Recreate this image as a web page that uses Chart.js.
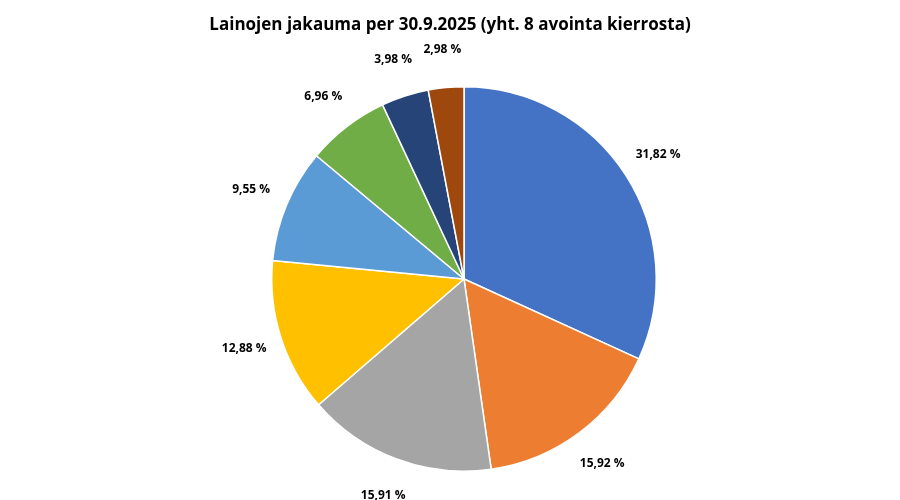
<!DOCTYPE html>
<html>
<head>
<meta charset="utf-8">
<script src="https://cdn.jsdelivr.net/npm/chart.js@4/dist/chart.umd.min.js"></script>
<style>
  body { margin: 0; background: #fff; }
  #wrap { width: 900px; height: 500px; }
</style>
</head>
<body>
<div id="wrap"><canvas id="c" width="900" height="500"></canvas></div>
<script>
// Loan distribution data
const categories = ["1", "2", "3", "4", "5", "6", "7", "8"];
const shares = [31.82, 15.92, 15.91, 12.88, 9.55, 6.96, 3.98, 2.98];
const colors = ["#4472C4", "#ED7D31", "#A5A5A5", "#FFC000", "#5B9BD5", "#70AD47", "#264478", "#9E480E"];
const titleText = "Lainojen jakauma per 30.9.2025 (yht. 8 avointa kierrosta)";

// draws title and outside percentage labels
const labelPlugin = {
  id: "outLabels",
  afterDraw(chart) {
    const ctx = chart.ctx;
    ctx.save();
    ctx.fillStyle = "#000";
    ctx.textAlign = "center";
    ctx.textBaseline = "middle";
    ctx.font = "bold 17px 'Open Sans'";
    ctx.fillText(titleText, 450, 25);
    ctx.font = "bold 12px 'Open Sans'";
    chart.getDatasetMeta(0).data.forEach((arc, i) => {
      const p = arc.getProps(["x", "y", "startAngle", "endAngle", "outerRadius"], true);
      const a = (p.startAngle + p.endAngle) / 2;
      const r = p.outerRadius * 1.2;
      const txt = shares[i].toFixed(2).replace(".", ",") + " %";
      ctx.fillText(txt, p.x + Math.cos(a) * r, p.y + Math.sin(a) * r);
    });
    ctx.restore();
  }
};

new Chart(document.getElementById("c"), {
  type: "pie",
  data: {
    labels: categories,
    datasets: [{
      data: shares,
      backgroundColor: colors,
      borderColor: "#fff",
      borderWidth: 1.5
    }]
  },
  options: {
    responsive: false,
    animation: false,
    layout: { padding: { top: 86, bottom: 28, left: 271, right: 243 } },
    plugins: {
      legend: { display: false },
      title: { display: false },
      tooltip: { enabled: false }
    }
  },
  plugins: [labelPlugin]
});
</script>
</body>
</html>
